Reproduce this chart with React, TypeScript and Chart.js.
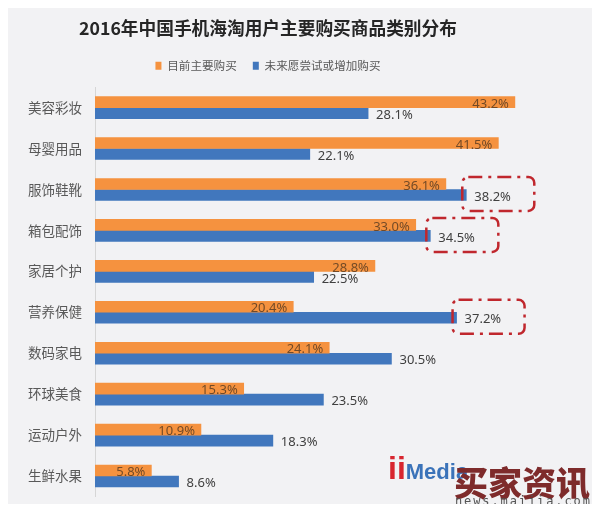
import React, { useEffect, useRef } from "react";
import { Chart, registerables } from "chart.js";

Chart.register(...registerables);

const titleText = "2016年中国手机海淘用户主要购买商品类别分布";
const seriesNames = ["目前主要购买", "未来愿尝试或增加购买"];
const categories = ["美容彩妆", "母婴用品", "服饰鞋靴", "箱包配饰", "家居个护", "营养保健", "数码家电", "环球美食", "运动户外", "生鲜水果"];
const currentPurchase = [43.2, 41.5, 36.1, 33.0, 28.8, 20.4, 24.1, 15.3, 10.9, 5.8];
const futurePurchase = [28.1, 22.1, 38.2, 34.5, 22.5, 37.2, 30.5, 23.5, 18.3, 8.6];
const highlightedFuture = [2, 3, 5];

const ORANGE = "#f5923f";
const BLUE = "#4177bd";
const FONT = "'Noto Sans CJK SC', 'Noto Sans', sans-serif";
const NUM_FONT = "'Noto Sans', 'Open Sans', sans-serif";

const labelPlugin = {
  id: "valueLabels",
  afterDatasetsDraw(chart: any) {
    const ctx = chart.ctx;
    ctx.save();
    ctx.font = `13px ${NUM_FONT}`;
    ctx.textBaseline = "middle";
    chart.data.datasets.forEach((ds: any, di: number) => {
      const meta = chart.getDatasetMeta(di);
      meta.data.forEach((el: any, i: number) => {
        const txt = ds.data[i].toFixed(1) + "%";
        if (di === 0) {
          ctx.fillStyle = "#734a26";
          ctx.textAlign = "right";
          ctx.fillText(txt, el.x - 6, el.y + 2);
        } else {
          ctx.fillStyle = "#404040";
          ctx.textAlign = "left";
          ctx.fillText(txt, el.x + 8, el.y + 2);
        }
      });
    });
    const meta = chart.getDatasetMeta(1);
    ctx.strokeStyle = "#c0272d";
    ctx.lineWidth = 2.5;
    ctx.setLineDash([14, 6, 3, 6]);
    highlightedFuture.forEach((i) => {
      const el: any = meta.data[i];
      const x0 = el.x - 4;
      const x1 = el.x + 68;
      const y0 = el.y - 18;
      const y1 = el.y + 16;
      ctx.beginPath();
      if (ctx.roundRect) ctx.roundRect(x0, y0, x1 - x0, y1 - y0, 6);
      else ctx.rect(x0, y0, x1 - x0, y1 - y0);
      ctx.stroke();
    });
    ctx.restore();
  },
};

export default function App() {
  const ref = useRef<HTMLCanvasElement | null>(null);
  useEffect(() => {
    if (!ref.current) return;
    const chart = new Chart(ref.current, {
      type: "bar",
      data: {
        labels: categories,
        datasets: [
          { label: seriesNames[0], data: currentPurchase, backgroundColor: ORANGE, barThickness: 11 },
          { label: seriesNames[1], data: futurePurchase, backgroundColor: BLUE, barThickness: 11 },
        ],
      },
      options: {
        indexAxis: "y",
        animation: false,
        responsive: true,
        maintainAspectRatio: false,
        layout: { padding: { left: 0, right: 64, top: 0, bottom: 7.5 } },
        scales: {
          x: { display: false, min: 0, max: 44.55 },
          y: {
            grid: { display: false, drawTicks: false },
            border: { display: true, color: "#d6d6d6" },
            ticks: { color: "#595959", font: { size: 13.5, family: FONT }, padding: 13 },
            afterFit(scale: any) {
              scale.width = 87;
              scale.paddingTop = 0;
              scale.paddingBottom = 0;
            },
          },
        },
        plugins: {
          title: {
            display: true,
            text: titleText,
            color: "#262626",
            font: { size: 17.7, weight: "bold", family: FONT },
            padding: { top: 9.4, bottom: 5.4 },
          },
          subtitle: {
            display: true,
            text: "",
            weight: 500,
            font: { size: 1 },
            padding: { top: 4.3, bottom: 0 },
          },
          legend: {
            display: true,
            position: "top",
            labels: {
              color: "#595959",
              font: { size: 11.6, family: FONT },
              boxWidth: 6,
              boxHeight: 8,
              padding: 16,
            },
          },
          tooltip: { enabled: false },
        },
      },
      plugins: [labelPlugin],
    } as any);
    return () => chart.destroy();
  }, []);

  return (
    <div style={{ position: "relative", width: 584, height: 496, background: "#f2f2f4" }}>
      <canvas ref={ref} />
      <div
        style={{
          position: "absolute",
          left: 380,
          top: 442,
          fontFamily: "'Liberation Sans', sans-serif",
          fontWeight: "bold",
          pointerEvents: "none",
        }}
      >
        <span style={{ color: "#d8262f", fontSize: 32 }}>ii</span>
        <span style={{ color: "#3b73b9", fontSize: 22 }}>Media</span>
      </div>
      <div
        style={{
          position: "absolute",
          left: 446,
          top: 456,
          fontFamily: FONT,
          fontWeight: 900,
          fontSize: 34,
          lineHeight: "36px",
          color: "#7e2b2b",
          pointerEvents: "none",
        }}
      >
        买家资讯
      </div>
      <div
        style={{
          position: "absolute",
          left: 447,
          top: 486,
          fontFamily: "'DejaVu Sans Mono', monospace",
          fontSize: 12,
          lineHeight: "14px",
          letterSpacing: 1.9,
          color: "#555",
          pointerEvents: "none",
        }}
      >
        news.maijia.com
      </div>
    </div>
  );
}
